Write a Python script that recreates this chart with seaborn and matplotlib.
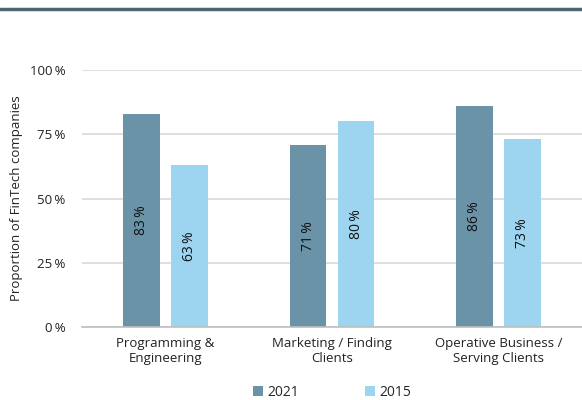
import matplotlib
matplotlib.use("Agg")
import matplotlib.pyplot as plt
import numpy as np
import pandas as pd
import seaborn as sns
from matplotlib.lines import Line2D
from matplotlib.ticker import FixedLocator

categories = ["Programming &\nEngineering", "Marketing / Finding\nClients", "Operative Business /\nServing Clients"]
years = ["2021", "2015"]
values_2021 = [83, 71, 86]
values_2015 = [63, 80, 73]
y_ticks = [0, 25, 50, 75, 100]

colors = {"2021": "#6a93a8", "2015": "#9dd5f1"}

df = pd.DataFrame({
    "category": categories * 2,
    "year": ["2021"] * 3 + ["2015"] * 3,
    "value": values_2021 + values_2015,
})

sns.set_style("white")
plt.rcParams["font.family"] = ["Open Sans", "DejaVu Sans"]

fig = plt.figure(figsize=(5.82, 4.0), dpi=100)
ax = fig.add_axes([0.141, 0.1825, 0.859, 0.6425])

sns.barplot(data=df, x="category", y="value", hue="year", hue_order=years,
            palette=colors, width=0.576, gap=0.236, ax=ax, legend=True,
            saturation=1, edgecolor="none")

ax.set_ylim(0, 100)
ax.set_xlim(-0.5, 2.5)
ax.set_yticks(y_ticks)
ax.set_yticklabels([f"{t}\u2009%" for t in y_ticks], fontsize=9.5, color="#222222")
ax.tick_params(axis="y", length=0, pad=12)
ax.yaxis.grid(True, color="#d9d9d9", linewidth=1.2)
ax.set_axisbelow(True)

ax.set_xlabel("")
ax.set_ylabel("Proportion of FinTech companies", fontsize=9.5, color="#222222", labelpad=5)
ax.tick_params(axis="x", length=0, pad=7, labelsize=9.5, labelcolor="#222222")
ax.xaxis.set_minor_locator(FixedLocator([-0.5, 0.5, 1.5, 2.5]))
ax.tick_params(axis="x", which="minor", length=5, color="#bfbfbf", width=1.2)

for s in ["top", "right", "left"]:
    ax.spines[s].set_visible(False)
ax.spines["bottom"].set_color("#bfbfbf")
ax.spines["bottom"].set_linewidth(1.2)

for container, year in zip(ax.containers, years):
    labels = [f"{v:.0f}\u2009%" for v in container.datavalues]
    ax.bar_label(container, labels=labels, label_type="center", rotation=90,
                 fontsize=10, color="#111111")

# legend centred under the plot area, near the bottom edge of the figure
handles, lbls = ax.get_legend_handles_labels()
trans = matplotlib.transforms.blended_transform_factory(ax.transAxes, fig.transFigure)
ax.legend(handles, lbls, loc="center", bbox_to_anchor=(0.5, 0.02),
          bbox_transform=trans, ncol=2, frameon=False,
          fontsize=10, handlelength=0.7, handleheight=0.7, columnspacing=4.8,
          handletextpad=0.3)

fig.add_artist(Line2D([0, 1], [0.9775, 0.9775], transform=fig.transFigure,
                      color="#4d6671", linewidth=2.5))

fig.savefig("out.png", dpi=100)
